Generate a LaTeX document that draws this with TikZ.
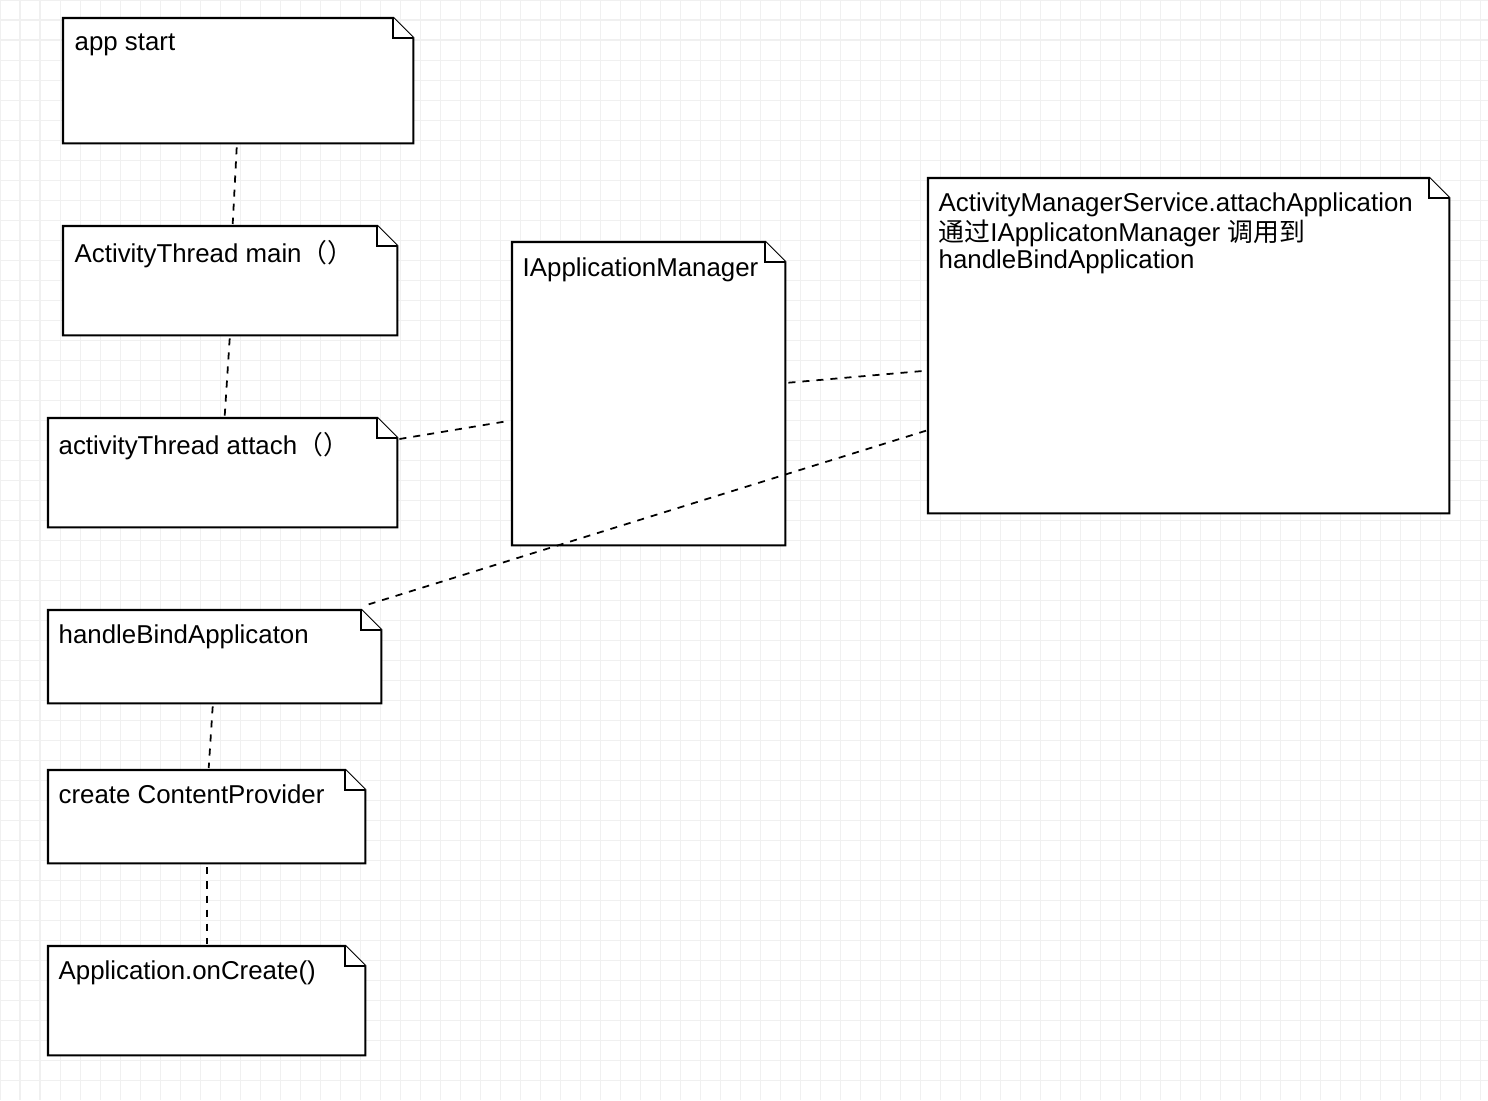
\documentclass[tikz,border=0pt]{standalone}
\usepackage{fontspec}
\setmainfont{Liberation Sans}
\newfontfamily\cjk{Noto Sans CJK SC}
\usetikzlibrary{calc}

% folded-corner note: name, x, y, width, height (pixels)
\newcommand{\notebox}[5]{%
  \node [notebox, minimum width=#4*0.01cm, minimum height=#5*0.01cm, anchor=north west] (#1) at (#2,#3) {};
  \draw [noteline] (#1.north west) -- ($(#1.north east)+(-20,0)$) -- ($(#1.north east)+(0,20)$) -- (#1.south east) -- (#1.south west) -- cycle;
  \draw [noteline] ($(#1.north east)+(-20,0)$) -- ($(#1.north east)+(-20,20)$) -- ($(#1.north east)+(0,20)$);
}

\tikzset{
  notebox/.style = {draw=none, inner sep=0pt},
  noteline/.style = {draw=black, line width=0.6pt, fill=white},
  notetext/.style = {anchor=north west, inner sep=0pt, font=\fontsize{7.35pt}{7.6pt}\selectfont, align=left},
  link/.style = {draw=black, dashed, line width=0.5pt, dash pattern=on 2pt off 2pt}
}

\begin{document}
\begin{tikzpicture}[x=0.01cm, y=-0.01cm]
\useasboundingbox (0,0) rectangle (1488,1100);
\fill [white] (0,0) rectangle (1488,1100);
\draw [step=0.2cm, black!6, line width=0.3pt] (0,0) grid (1488,1100);

\notebox{start}{63}{18}{349}{124}
\node [notetext] at ($(start.north west)+(11,15)$) {app start};
\notebox{main}{63}{226}{333}{108}
\node [notetext] at ($(main.north west)+(11,14)$) {ActivityThread main{\cjk （）}};
\notebox{attach}{48}{418}{348}{108}
\node [notetext] at ($(attach.north west)+(10,14)$) {activityThread attach{\cjk （）}};
\notebox{iam}{512}{242}{272}{302}
\node [notetext] at ($(iam.north west)+(10,15)$) {IApplicationManager};
\notebox{ams}{928}{178}{520}{334}
\node [notetext] at ($(ams.north west)+(10,14)$) {ActivityManagerService.attachApplication\\{\cjk 通过}IApplicatonManager {\cjk 调用到}\\handleBindApplication};
\notebox{bind}{48}{610}{332}{92}
\node [notetext] at ($(bind.north west)+(10,14)$) {handleBindApplicaton};
\notebox{provider}{48}{770}{316}{92}
\node [notetext] at ($(provider.north west)+(10,14)$) {create ContentProvider};
\notebox{oncreate}{48}{946}{316}{108}
\node [notetext] at ($(oncreate.north west)+(10,14)$) {Application.onCreate()};

\draw [link] ($(start.south)+(-1.5,4)$) -- ($(main.north)+(2.5,-2)$);
\draw [link] ($(main.south)+(-0.5,3)$) -- ($(attach.north)+(2,-2)$);
\draw [link] ($(attach.north east)+(2,21)$) -- ($(iam.west)+(-2,27)$);
\draw [link] ($(iam.east)+(3,-11)$) -- ($(ams.west)+(-2,25)$);
\draw [link] ($(ams.west)+(-2,85)$) -- ($(bind.north east)+(-18,-4)$);
\draw [link] ($(bind.south)+(-2,3)$) -- ($(provider.north)+(2,-2)$);
\draw [link] ($(provider.south)+(0,4)$) -- ($(oncreate.north)+(0,-2)$);
\end{tikzpicture}
\end{document}
